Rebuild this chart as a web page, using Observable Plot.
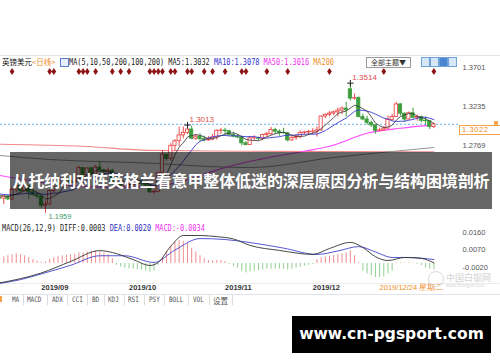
<!DOCTYPE html>
<html><head><meta charset="utf-8">
<script src="https://cdn.jsdelivr.net/npm/d3@7"></script>
<script src="https://cdn.jsdelivr.net/npm/@observablehq/plot@0.6"></script>
<style>
html,body{margin:0;padding:0;background:#fff;}
#root{position:relative;width:500px;height:362px;overflow:hidden;background:#fff;}
.a{position:absolute;white-space:nowrap;}
.mono{font-family:"DejaVu Sans Mono","Liberation Mono",monospace;font-size:8.6px;transform:scaleX(0.8);transform-origin:0 50%;line-height:10px;}
.cjk{font-family:"Noto Sans CJK SC",sans-serif;}
.wrap{position:absolute;left:0;}
.wrap svg{display:block;overflow:visible;}
</style></head>
<body><div id="root"></div>
<script>
// ---------- DATA (GBP/USD daily) ----------
const opens = [1.2150,1.2135,1.2160,1.2125,1.2240,1.2285,1.2225,1.2280,1.2210,1.2175,
1.2160,1.2050,1.2065,1.2225,1.2325,1.2290,1.2355,1.2350,1.2330,1.2335,
1.2500,1.2415,1.2495,1.2425,1.2505,1.2470,1.2450,1.2468,1.2320,1.2322,
1.2290,1.2292,1.2300,1.2340,1.2335,1.2330,1.2290,1.2210,1.2215,1.2440,
1.2660,1.2610,1.2765,1.2820,1.2890,1.2920,1.2960,1.2850,1.2875,1.2845,
1.2830,1.2840,1.2865,1.2945,1.2948,1.2940,1.2895,1.2875,1.2865,1.2795,
1.2775,1.2855,1.2857,1.2850,1.2895,1.2905,1.2955,1.2935,1.2920,1.2915,
1.2830,1.2860,1.2870,1.2920,1.2925,1.2930,1.2935,1.2950,1.3115,1.3135,
1.3150,1.3165,1.3185,1.3210,1.3440,1.3330,1.3335,1.3110,1.3080,1.3040,
1.3010,1.2945,1.2950,1.2970,1.3075,1.3110,1.3260,1.3150,1.3080,1.3155,
1.3100,1.3110,1.3065,1.3060,1.2990];
const highs = [1.2180,1.2175,1.2170,1.2275,1.2310,1.2305,1.2305,1.2290,1.2245,1.2205,
1.2165,1.2105,1.2235,1.2345,1.2350,1.2385,1.2385,1.2380,1.2385,1.2520,
1.2505,1.2500,1.2505,1.2530,1.2580,1.2485,1.2500,1.2485,1.2345,1.2340,
1.2330,1.2345,1.2345,1.2375,1.2350,1.2345,1.2295,1.2240,1.2445,1.2710,
1.2665,1.2790,1.2840,1.2990,1.2990,1.3013,1.3000,1.2900,1.2910,1.2880,
1.2875,1.2900,1.2955,1.2975,1.2975,1.2950,1.2925,1.2900,1.2875,1.2815,
1.2870,1.2885,1.2870,1.2905,1.2925,1.2985,1.2975,1.2955,1.2975,1.2925,
1.2875,1.2900,1.2945,1.2940,1.2950,1.2970,1.2990,1.3120,1.3145,1.3175,
1.3180,1.3215,1.3230,1.3285,1.3514,1.3385,1.3350,1.3145,1.3120,1.3060,
1.3015,1.2975,1.2995,1.3120,1.3140,1.3285,1.3265,1.3155,1.3170,1.3215,
1.3135,1.3120,1.3105,1.3065,1.3035];
const lows = [1.2110,1.2065,1.2110,1.2115,1.2200,1.2200,1.2215,1.2130,1.2165,1.2135,
1.2025,1.1959,1.2055,1.2205,1.2265,1.2260,1.2315,1.2310,1.2285,1.2330,
1.2390,1.2410,1.2410,1.2420,1.2460,1.2400,1.2420,1.2300,1.2285,1.2270,
1.2270,1.2255,1.2280,1.2290,1.2285,1.2275,1.2195,1.2190,1.2205,1.2430,
1.2580,1.2580,1.2700,1.2755,1.2850,1.2900,1.2840,1.2830,1.2815,1.2810,
1.2820,1.2825,1.2835,1.2900,1.2885,1.2880,1.2860,1.2850,1.2765,1.2765,
1.2770,1.2825,1.2825,1.2825,1.2865,1.2890,1.2900,1.2880,1.2905,1.2810,
1.2820,1.2830,1.2850,1.2895,1.2890,1.2900,1.2870,1.2940,1.3090,1.3110,
1.3125,1.3110,1.3140,1.3110,1.3300,1.3310,1.3100,1.3065,1.3010,1.2985,
1.2905,1.2930,1.2935,1.2965,1.3060,1.3105,1.3120,1.3050,1.3075,1.3085,
1.3060,1.3040,1.3010,1.2960,1.2970];
const closes = [1.2135,1.2160,1.2125,1.2240,1.2285,1.2225,1.2280,1.2210,1.2175,1.2160,
1.2050,1.2065,1.2225,1.2325,1.2290,1.2355,1.2350,1.2330,1.2335,1.2500,
1.2415,1.2495,1.2425,1.2505,1.2470,1.2450,1.2468,1.2320,1.2322,1.2290,
1.2292,1.2300,1.2340,1.2335,1.2330,1.2290,1.2210,1.2215,1.2440,1.2660,
1.2610,1.2765,1.2820,1.2890,1.2920,1.2960,1.2850,1.2875,1.2845,1.2830,
1.2840,1.2865,1.2945,1.2948,1.2940,1.2895,1.2875,1.2865,1.2795,1.2775,
1.2855,1.2857,1.2850,1.2895,1.2905,1.2955,1.2935,1.2920,1.2915,1.2830,
1.2860,1.2870,1.2920,1.2925,1.2930,1.2935,1.2950,1.3115,1.3135,1.3150,
1.3165,1.3185,1.3210,1.3190,1.3330,1.3335,1.3110,1.3080,1.3040,1.3010,
1.2945,1.2950,1.2970,1.3075,1.3110,1.3260,1.3150,1.3080,1.3155,1.3100,
1.3110,1.3065,1.3060,1.2990,1.3022];

const ma5 = [1.2170,1.2165,1.2160,1.2170,1.2189,1.2207,1.2231,1.2248,1.2235,1.2210,
1.2175,1.2132,1.2135,1.2165,1.2191,1.2252,1.2309,1.2330,1.2332,1.2374,
1.2386,1.2415,1.2434,1.2468,1.2462,1.2469,1.2464,1.2443,1.2406,1.2370,
1.2338,1.2304,1.2308,1.2311,1.2319,1.2319,1.2301,1.2276,1.2297,1.2363,
1.2427,1.2538,1.2659,1.2749,1.2801,1.2871,1.2888,1.2899,1.2890,1.2872,
1.2848,1.2851,1.2865,1.2885,1.2907,1.2918,1.2920,1.2904,1.2874,1.2841,
1.2833,1.2829,1.2826,1.2846,1.2872,1.2892,1.2908,1.2922,1.2926,1.2911,
1.2892,1.2879,1.2879,1.2881,1.2901,1.2916,1.2932,1.2971,1.3013,1.3057,
1.3103,1.3150,1.3169,1.3180,1.3216,1.3250,1.3235,1.3209,1.3179,1.3115,
1.3037,1.3005,1.2983,1.2990,1.3010,1.3073,1.3113,1.3135,1.3151,1.3149,
1.3119,1.3102,1.3090,1.3060,1.3032];
const ma10 = [1.2190,1.2185,1.2180,1.2180,1.2185,1.2190,1.2195,1.2200,1.2200,1.2200,
1.2191,1.2182,1.2192,1.2200,1.2201,1.2214,1.2221,1.2233,1.2249,1.2283,
1.2319,1.2362,1.2382,1.2400,1.2418,1.2428,1.2439,1.2438,1.2437,1.2416,
1.2403,1.2384,1.2375,1.2358,1.2344,1.2328,1.2303,1.2292,1.2304,1.2341,
1.2373,1.2420,1.2468,1.2523,1.2582,1.2649,1.2713,1.2779,1.2820,1.2837,
1.2860,1.2870,1.2882,1.2888,1.2890,1.2883,1.2886,1.2885,1.2880,1.2874,
1.2876,1.2875,1.2865,1.2860,1.2857,1.2863,1.2869,1.2874,1.2886,1.2892,
1.2892,1.2894,1.2901,1.2904,1.2906,1.2904,1.2906,1.2925,1.2947,1.2979,
1.3010,1.3041,1.3070,1.3097,1.3137,1.3177,1.3193,1.3189,1.3180,1.3166,
1.3144,1.3120,1.3096,1.3085,1.3063,1.3055,1.3059,1.3059,1.3071,1.3080,
1.3096,1.3105,1.3108,1.3095,1.3078];
const ma50Idx = [0,10,20,30,40,46,51,60,73,79,88,96,104];
const ma50Val = [1.2411,1.2330,1.2280,1.2270,1.2300,1.2375,1.2460,1.2580,1.2700,1.2760,1.2915,1.2975,1.3016];
const ma100Idx = [0,12,38,50,60,80,104];
const ma100Val = [1.2650,1.2602,1.2554,1.2518,1.2506,1.2626,1.2745];
const ma200Idx = [0,20,36,60,80,104];
const ma200Val = [1.2785,1.2760,1.2711,1.2700,1.2697,1.2695];

const newsEvents = [3,12,13,19,20,21,23,27,29,31,36,37,38,39,41,42,45,46,49,51,54,58,59,64,69,79,92,104];

const macdHist = [0.0030,0.0035,0.0040,0.0045,0.0050,0.0045,0.0040,0.0030,0.0020,0.0012,
0.0005,0.0008,0.0020,0.0030,0.0035,0.0040,0.0042,0.0045,0.0048,0.0055,
0.0055,0.0060,0.0062,0.0065,0.0060,0.0055,0.0045,0.0025,-0.0010,-0.0020,
-0.0025,-0.0028,-0.0030,-0.0032,-0.0035,-0.0040,-0.0045,-0.0040,-0.0010,0.0030,
0.0060,0.0090,0.0110,0.0120,0.0115,0.0105,0.0080,0.0060,0.0040,0.0025,
0.0015,0.0012,0.0015,0.0015,0.0010,-0.0005,-0.0015,-0.0025,-0.0040,-0.0050,
-0.0045,-0.0040,-0.0038,-0.0035,-0.0030,-0.0030,-0.0030,-0.0030,-0.0030,-0.0035,
-0.0030,-0.0025,-0.0020,-0.0015,-0.0010,-0.0005,0.0020,0.0030,0.0035,0.0038,
0.0042,0.0045,0.0050,0.0055,0.0065,0.0040,0.0005,-0.0040,-0.0055,-0.0065,
-0.0075,-0.0075,-0.0070,-0.0055,-0.0040,0.0003,0.0003,0.0002,0.0003,0.0002,
-0.0005,-0.0012,-0.0025,-0.0030,-0.0034];
const diffIdx = [0,5,10,17,24,27,32,36,38,41,44,48,52,56,60,67,75,79,84,87,90,93,97,101,104];
const diffVal = [-0.0102,-0.0080,-0.0050,0.0010,0.0067,0.0057,0.0020,-0.0011,0.0005,0.0090,0.0146,0.0146,0.0140,0.0128,0.0094,0.0068,0.0047,0.0078,0.0110,0.0083,0.0035,0.0015,0.0031,0.0026,0.0003];
const deaIdx = [0,5,10,17,24,30,37,42,48,54,60,68,76,81,86,90,94,98,104];
const deaVal = [-0.0105,-0.0085,-0.0055,-0.0010,0.0040,0.0040,0.0005,0.0070,0.0130,0.0125,0.0109,0.0080,0.0047,0.0065,0.0088,0.0060,0.0031,0.0031,0.0020];

const priceTicks = [1.3701,1.3235,1.2769];
const macdTicks = [0.0160,0.0070,-0.0020];
const monthIdx = [10,31,54,75];
const monthLabels = ["2019/09","2019/10","2019/11","2019/12"];
const crossIdx = 91;
const crossLabel = "2019/12/24 星期二";
const tabLabels = ["MA","MACD","ADX","CCI","BD","KDJ","RSI","PSY","BOLL","VOL","设置"];
const titleText = "从托纳利对阵英格兰看意甲整体低迷的深层原因分析与结构困境剖析";
const siteText = "www.cn-pgsport.com";

// ---------- BUILD ----------
const root = document.getElementById("root");
const N = closes.length;
const idx = d3.range(N);
const candles = idx.map(i => ({i, o: opens[i], h: highs[i], l: lows[i], c: closes[i]}));
const UP = "#ee4a4a", DN = "#3f9f3f";
const col = d => d.c >= d.o ? UP : DN;
const pts = (ix, vals) => ix.map((i, k) => ({i, v: vals[k]}));
const series = vals => vals.map((v, i) => ({i, v}));
const xOpt = {type: "linear", domain: [0, N - 1], range: [-0.94, 433.4], axis: null};
const hiI = d3.maxIndex(highs), loI = d3.minIndex(lows);
const hi2I = d3.maxIndex(highs.slice(0, 60));
const last = a => a[a.length - 1];

const spark = {draw(ctx, size) { const r = Math.sqrt(size / Math.PI);
  ctx.moveTo(0, -r * 1.3); ctx.lineTo(r * 0.9, 0); ctx.lineTo(0, r * 1.3); ctx.lineTo(-r * 0.9, 0); ctx.closePath(); }};

const PRICE_TOP = 62, PRICE_H = 160;
const price = Plot.plot({
  width: 500, height: PRICE_H, marginTop: 0, marginBottom: 0, marginLeft: 0, marginRight: 42,
  x: xOpt,
  y: {domain: [1.18492, 1.37607], axis: null},
  color: {type: "identity"},
  style: {background: "transparent", fontFamily: "Liberation Sans, Arial, sans-serif", overflow: "visible"},
  marks: [
    Plot.ruleY([last(closes)], {stroke: "#86c0ee", strokeDasharray: "2,2", strokeWidth: 1.3}),
    Plot.line(pts(ma200Idx, ma200Val), {x: "i", y: "v", stroke: "#f08a8a", strokeWidth: 1.1, curve: "monotone-x"}),
    Plot.line(pts(ma100Idx, ma100Val), {x: "i", y: "v", stroke: "#8a8a8a", strokeWidth: 0.9, curve: "monotone-x"}),
    Plot.line(pts(ma50Idx, ma50Val), {x: "i", y: "v", stroke: "#ff4cff", strokeWidth: 1.1, curve: "monotone-x"}),
    Plot.ruleX(candles, {x: "i", y1: "l", y2: "h", stroke: col, strokeWidth: 1}),
    Plot.rect(candles, {x1: d => d.i - 0.38, x2: d => d.i + 0.38, y1: "o", y2: "c",
      fill: d => d.c >= d.o ? "#fff" : DN, stroke: col, strokeWidth: 0.9}),
    Plot.line(series(ma10), {x: "i", y: "v", stroke: "#3a3ad0", strokeWidth: 0.9}),
    Plot.line(series(ma5), {x: "i", y: "v", stroke: "#333", strokeWidth: 0.8}),
    Plot.dot(newsEvents, {x: d => d, frameAnchor: "top", dy: 9, symbol: spark, r: 2.6, fill: "#8c1414", stroke: "none"}),
    Plot.dot([hi2I, hiI], {x: d => d, y: d => highs[d], symbol: "plus", r: 2.2, stroke: "#222", strokeWidth: 1}),
    Plot.text([hi2I, hiI], {x: d => d, y: d => highs[d], text: d => highs[d].toFixed(4), dx: 2, dy: -6,
      textAnchor: "start", fill: "#e04a4a", fontSize: 8}),
    Plot.text([loI], {x: d => d, y: d => lows[d], text: d => lows[d].toFixed(4), dx: 3, dy: 3.5,
      textAnchor: "start", fill: "#3d9a6d", fontSize: 7.5}),
    Plot.axisY({anchor: "right", ticks: priceTicks, tickSize: 0, tickPadding: 4,
      tickFormat: d => d.toFixed(4), color: "#555", fontSize: 7.5, label: null})
  ]
});

const MACD_TOP = 230;
const macd = Plot.plot({
  width: 500, height: 62, marginTop: 0, marginBottom: 10, marginLeft: 0, marginRight: 42,
  x: xOpt,
  y: {domain: [-0.00999, 0.01722], axis: null},
  color: {type: "identity"},
  style: {background: "transparent", fontFamily: "Liberation Sans, Arial, sans-serif", overflow: "visible"},
  marks: [
    Plot.ruleX(idx, {x: d => d, y1: 0, y2: d => macdHist[d], stroke: d => macdHist[d] >= 0 ? "#f28c8c" : "#8fcf8f", strokeWidth: 1}),
    Plot.line(pts(deaIdx, deaVal), {x: "i", y: "v", stroke: "#4444cc", strokeWidth: 0.9, curve: "monotone-x"}),
    Plot.line(pts(diffIdx, diffVal), {x: "i", y: "v", stroke: "#333", strokeWidth: 0.9, curve: "monotone-x"}),
    Plot.axisY({anchor: "right", ticks: macdTicks, tickSize: 0, tickPadding: 4,
      tickFormat: d => d.toFixed(4), color: "#555", fontSize: 7.5, label: null}),
    Plot.axisX({anchor: "bottom", ticks: monthIdx, tickFormat: d => monthLabels[monthIdx.indexOf(d)],
      tickSize: 0, tickPadding: 2, textAnchor: "start", color: "#333", fontSize: 7.5, fontWeight: "bold", label: null}),
    Plot.axisX({anchor: "bottom", ticks: [crossIdx], tickFormat: () => crossLabel,
      tickSize: 0, tickPadding: 2, textAnchor: "start", color: "#f08a24", fontSize: 7.5, label: null})
  ]
});

function place(node, top) { const w = document.createElement("div"); w.className = "wrap"; w.style.top = top + "px"; w.appendChild(node); root.appendChild(w); }
function el(html, css, cls) { const d = document.createElement("div"); d.className = "a " + (cls || ""); d.style.cssText = css; d.innerHTML = html; root.appendChild(d); return d; }

// frame lines
el("", "left:0;top:55px;width:500px;height:1px;background:#e2e2e2;");
el("", "left:0;top:283px;width:500px;height:1px;background:#ececec;");
el("", "left:0;top:294px;width:500px;height:1px;background:#dfe3ea;");

place(price, PRICE_TOP);
place(macd, MACD_TOP);

// current price box on the axis
const yNow = PRICE_TOP + price.scale("y").apply(last(closes));
el(last(closes).toFixed(4), `left:459px;top:${yNow + 1}px;width:38px;height:8px;border:1px solid #f3a24a;color:#f08a24;font:7.5px 'Liberation Sans',Arial;line-height:8px;padding-left:2px;letter-spacing:0.6px;`);
el("", `left:494px;top:${yNow - 3}px;width:4px;height:4px;background:#f3a24a;border-radius:1px;`);

// header
el('<span style="color:#111">英镑美元</span><span style="color:#f08a24">&lt;日线&gt;</span>', "left:2px;top:57px;font-size:7.5px;line-height:10px;", "cjk");
el("", "left:60px;top:58px;width:7px;height:7px;border:1px solid #5b7fd6;background:#e8eeff;");
el(`<span style="color:#222">MA(5,10,50,200,100,200) MA5:${last(ma5).toFixed(4)} </span><span style="color:#2f2fd0">MA10:${last(ma10).toFixed(4)} </span><span style="color:#f030f0">MA50:${last(ma50Val).toFixed(4)} </span><span style="color:#f09030">MA200</span>`,
  "left:69px;top:57px;", "mono");
el("全部主题▼", "left:366px;top:57px;width:43px;height:9px;border:1px solid #9a9a9a;font-size:7px;line-height:9px;text-align:center;color:#333;", "cjk");
[421, 430, 439, 448].forEach((x, k) => el("", `left:${x}px;top:57px;width:7px;height:8px;border:1px solid #6fa3d9;background:${k === 2 ? "#4d86d0" : "#d6e7f9"};`));

// MACD header
el(`<span style="color:#222">MACD(26,12,9) DIFF:${last(diffVal).toFixed(4)} </span><span style="color:#3030c0">DEA:${last(deaVal).toFixed(4)} </span><span style="color:#f030f0">MACD:${last(macdHist).toFixed(4)}</span>`,
  "left:2px;top:223px;", "mono");

// watermark
el("", "left:428px;top:271px;width:14px;height:14px;border:1px solid #dadada;border-radius:50%;");
el("中国白银网", "left:446px;top:273px;font-size:9px;color:#d2d2d2;line-height:10px;", "cjk");
el("www.zhongyin.com", "left:446px;top:283px;font-size:4.5px;color:#d6d6d6;font-family:'Liberation Sans';line-height:5px;");

// tabs
const tabX = [12, 27, 52, 72, 92, 108, 128, 149, 169, 193, 213];
const sepX = [23, 47, 67, 87, 104, 124, 144, 164, 188, 209, 232];
tabLabels.forEach((t, k) => el(t, `left:${tabX[k]}px;top:295px;color:#555;font-size:7.5px;`, t === "设置" ? "cjk" : "mono"));
sepX.forEach(x => el("", `left:${x}px;top:295px;width:1px;height:10px;background:#dcdcdc;`));
el("", "left:0;top:296px;width:2px;height:6px;background:#f3a24a;");

// banner overlay
el(titleText, "left:10px;top:152px;width:482px;height:57px;background:rgba(0,0,0,0.6);color:#fff;font-weight:bold;font-size:16px;line-height:57px;text-align:center;letter-spacing:-0.1px;", "cjk");

// site box
el(siteText, "left:292px;top:316px;width:199px;height:37px;background:#000;color:#fff;font-family:'DejaVu Sans',sans-serif;font-weight:bold;font-size:15.5px;line-height:37px;text-align:center;");
</script></body></html>
